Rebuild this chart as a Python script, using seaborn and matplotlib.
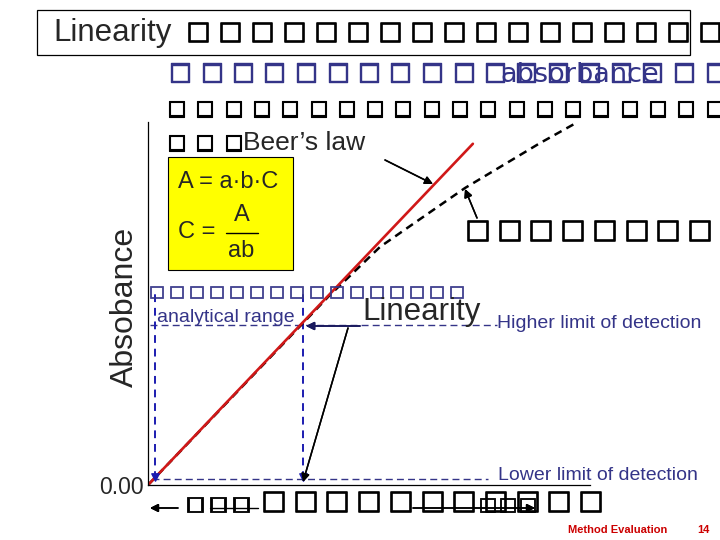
import matplotlib
matplotlib.use("Agg")
import matplotlib.pyplot as plt
import matplotlib.patheffects as pe
import seaborn as sns
from matplotlib.patches import Rectangle
from matplotlib.textpath import TextPath
from matplotlib.font_manager import FontProperties

W, H, DPI = 720, 540, 100

# data: concentration (arbitrary units) vs absorbance
beer_conc = [0.0, 7.35]            # ideal Beer's law line
beer_abs = [0.0, 0.94]
meas_conc = [0.0, 4.12, 4.50, 5.25, 6.22, 7.17, 8.87, 9.68]   # real response, bends off
meas_abs = [0.0, 0.524, 0.568, 0.656, 0.738, 0.818, 0.942, 0.997]
limit_conc = [0.16, 3.51]          # lower / higher limit of detection
limit_abs = [0.017, 0.44]
limit_line_end = [7.7, 7.9]
range_top = 0.53
ytick_vals = [0.0]
ytick_labels = ["0.00"]

NAVY = "#343488"
RED = "#D01818"
BLUE = "#1C1CB0"
BOX = "\u25a1"

sns.set_style("white")
plt.rcParams["font.family"] = ["Liberation Sans", "DejaVu Sans"]

fig = plt.figure(figsize=(W / DPI, H / DPI), dpi=DPI)
fig.patch.set_facecolor("white")


def fx(x, y):
    # pixel position (origin top-left) -> figure fraction
    return x / W, 1 - y / H


BOX_EXT = TextPath((0, 0), BOX, size=1,
                   prop=FontProperties(family="DejaVu Sans")).get_extents()


def box_row(x0, yc, n, pitch, h, color, stroke=0.0):
    # tofu-like glyph row; stroke (pt) thickens the outline
    e = BOX_EXT
    sp = stroke * DPI / 72
    em = (h - sp) / e.height
    fs = em * 72 / DPI
    yb = round(yc + (e.y0 + e.height / 2) * em)
    effects = [pe.Stroke(linewidth=stroke, foreground=color)] if stroke else None
    for i in range(n):
        x = round(x0 + i * pitch) - e.x0 * em + sp / 2
        fig.text(*fx(x, yb), BOX, fontsize=fs, color=color, family="DejaVu Sans",
                 ha="left", va="baseline", path_effects=effects)


def arrow(p_from, p_to, color="black", lw=1.1, ms=12):
    fig.add_artist(plt.annotate("", xy=fx(*p_to), xytext=fx(*p_from),
                                xycoords="figure fraction", textcoords="figure fraction",
                                arrowprops=dict(arrowstyle="-|>", color=color, lw=lw,
                                                mutation_scale=ms, shrinkA=0, shrinkB=0)))


# ── main axes ──────────────────────────────────────────────────────────────
ax = fig.add_axes([148 / W, 1 - 485 / H, (590 - 148) / W, (485 - 122) / H])
ax.set_xlim(0, 10)
ax.set_ylim(0, 1)
ax.set_facecolor("none")
for s in ("top", "right"):
    ax.spines[s].set_visible(False)
for s in ("left", "bottom"):
    ax.spines[s].set_color("black")
    ax.spines[s].set_linewidth(0.9)
ax.set_xticks([])
ax.set_yticks(ytick_vals)
ax.set_yticklabels(ytick_labels)
ax.tick_params(axis="y", length=0, pad=3, labelsize=16.5)
ax.set_ylabel("Absobance", fontsize=23)
ax.yaxis.set_label_coords(-0.018, 0.49)

# limit of detection guides
ax.hlines(limit_abs, [0.1, 0.05], limit_line_end, colors=NAVY, linewidth=1.0,
          linestyles=(0, (5, 3)), clip_on=False)
ax.vlines(limit_conc, limit_abs[0], range_top, colors=BLUE, linewidth=1.4,
          linestyles=(0, (4, 3)))
ax.scatter(limit_conc, [limit_abs[0] + 0.006] * 2, marker="v", s=28, color=BLUE,
           zorder=4, clip_on=False)

sns.lineplot(x=meas_conc, y=meas_abs, ax=ax, color="black", linewidth=1.8,
             linestyle=(0, (3.2, 2.2)), estimator=None, sort=False)
sns.lineplot(x=beer_conc, y=beer_abs, ax=ax, color=RED, linewidth=1.9,
             estimator=None, sort=False)

# ── header ────────────────────────────────────────────────────────────────
fig.add_artist(Rectangle(fx(37, 55), (690 - 37) / W, 45 / H, transform=fig.transFigure,
                         fill=False, edgecolor="black", linewidth=0.9))
fig.text(*fx(53, 33), "Linearity", fontsize=22.5, ha="left", va="center")
box_row(188, 32, 17, 32, 21, "black", stroke=1.2)
box_row(170, 73, 18, 31.5, 20, NAVY, stroke=1.0)
fig.text(*fx(500, 75), "absorbance", fontsize=19.5, color=NAVY, family="DejaVu Sans",
         ha="left", va="center")
box_row(168, 109, 20, 28.3, 17, "black", stroke=0.8)
box_row(168, 143, 3, 28.3, 17, "black", stroke=0.8)
fig.text(*fx(243, 143), "Beer\u2019s law", fontsize=19, ha="left", va="center")

# yellow formula box
fig.add_artist(Rectangle(fx(168, 270), (293 - 168) / W, (270 - 157) / H,
                         transform=fig.transFigure, facecolor="#FFFF00",
                         edgecolor="black", linewidth=0.8))
fig.text(*fx(178, 182), "A = a\u00b7b\u00b7C", fontsize=17, ha="left", va="center")
fig.text(*fx(178, 232), "C =", fontsize=17, ha="left", va="center")
fig.text(*fx(242, 215), "A", fontsize=17, ha="center", va="center")
fig.text(*fx(241, 251), "ab", fontsize=17, ha="center", va="center")
fig.add_artist(plt.Line2D([226 / W, 258 / W], [1 - 233 / H] * 2, color="black", lw=1.0))

# annotations around the curves
arrow((385, 160), (433, 184))
box_row(467, 231, 8, 31.7, 22, "black", stroke=1.2)
arrow((477, 218), (465, 189))

box_row(150, 292, 16, 20, 13, NAVY, stroke=0.5)
fig.text(*fx(157, 317), "analytical range", fontsize=14, color=NAVY, ha="left", va="center")
fig.text(*fx(362, 312), "Linearity", fontsize=22.5, ha="left", va="center")
arrow((360, 326), (306, 326), color="#1a1a5e", lw=1.2)
arrow((348, 328), (303, 482))
fig.text(*fx(497, 323), "Higher limit of detection", fontsize=14, color=NAVY,
         ha="left", va="center")
fig.text(*fx(498, 476), "Lower limit of detection", fontsize=14, color=NAVY,
         ha="left", va="center")

# bottom line
arrow((178, 508), (150, 508))
box_row(187, 505, 3, 23, 16, "black", stroke=0.6)
fig.add_artist(plt.Line2D([210 / W, 258 / W], [1 - 508 / H] * 2, color="black", lw=1.0))
box_row(263, 502, 11, 31.7, 22, "black", stroke=1.2)
box_row(480, 505, 3, 20, 15, "black", stroke=0.6)
arrow((413, 508), (535, 508))

fig.text(*fx(568, 530), "Method Evaluation", fontsize=8, weight="bold", color="#CC0000",
         ha="left", va="center")
fig.text(*fx(697, 530), "14", fontsize=8, weight="bold", color="#CC0000",
         ha="left", va="center")

fig.savefig("out.png", dpi=DPI)
